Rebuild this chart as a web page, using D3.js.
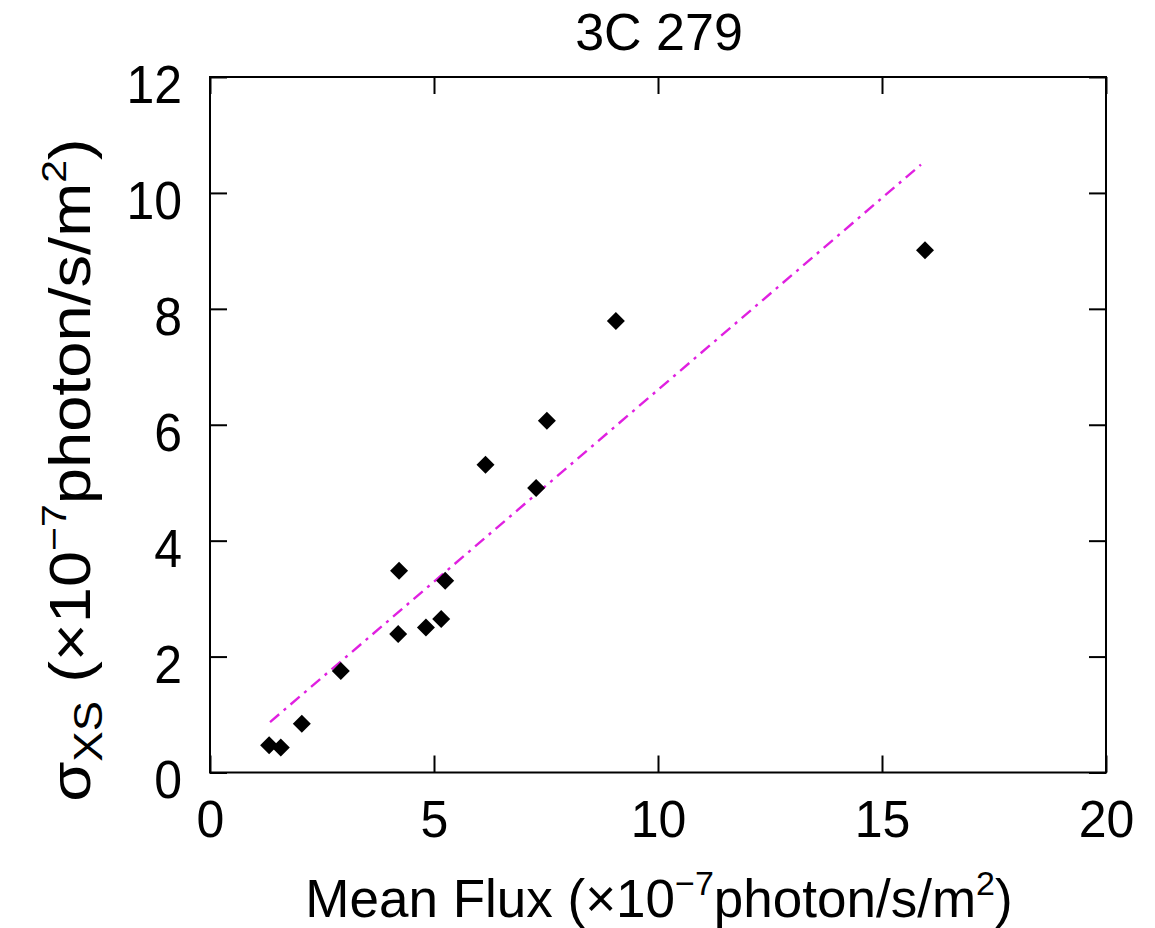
<!DOCTYPE html>
<html><head><meta charset="utf-8">
<script src="https://cdn.jsdelivr.net/npm/d3@7"></script>
<style>body{margin:0;background:#fff}svg{display:block}text{font-family:"Liberation Sans",Arial,Helvetica,sans-serif;fill:#000}</style>
</head><body>
<script>
const meanFlux = [1.32, 1.58, 2.05, 2.92, 4.22, 4.20, 4.82, 5.16, 5.25, 6.15, 7.28, 7.52, 9.06, 15.96];
const sigmaXS  = [0.47, 0.43, 0.84, 1.75, 3.48, 2.39, 2.50, 2.65, 3.31, 5.31, 4.91, 6.07, 7.79, 9.01];
const fitX = [1.34, 15.87];
const fitSlope = 0.662, fitIntercept = -0.017;
const xTicks = [0, 5, 10, 15, 20];
const yTicks = [0, 2, 4, 6, 8, 10, 12];
const title = "3C 279";

const W = 1155, H = 928;
const L = 210, R = 1106, T = 77, B = 772.5;
const svg = d3.select("body").append("svg").attr("width", W).attr("height", H);
const x = d3.scaleLinear().domain([0, 20]).range([L, R]);
const y = d3.scaleLinear().domain([0, 12]).range([B, T]);

const tl = 17;
const fs = 50;
const axStyle = g => { g.select(".domain").remove(); g.selectAll("line").attr("stroke", "#000").attr("stroke-width", 2); };

// frame
svg.append("rect").attr("x", L).attr("y", T).attr("width", R - L).attr("height", B - T)
  .attr("fill", "none").attr("stroke", "#000").attr("stroke-width", 2);

// bottom axis
svg.append("g").attr("transform", `translate(0,${B})`)
  .call(d3.axisBottom(x).tickValues(xTicks).tickSizeInner(-tl).tickSizeOuter(0).tickFormat(d3.format("d")))
  .call(axStyle)
  .call(g => g.selectAll("text").attr("font-size", fs).attr("y", 0).attr("dy", 0)
    .attr("transform", "translate(0,64.5) scale(1,1.03)").attr("fill", "#000"));
// top axis
svg.append("g").attr("transform", `translate(0,${T})`)
  .call(d3.axisTop(x).tickValues(xTicks).tickSizeInner(-tl).tickSizeOuter(0).tickFormat(""))
  .call(axStyle);
// left axis
svg.append("g").attr("transform", `translate(${L},0)`)
  .call(d3.axisLeft(y).tickValues(yTicks).tickSizeInner(-tl).tickSizeOuter(0).tickFormat(d3.format("d")))
  .call(axStyle)
  .call(g => g.selectAll("text").attr("font-size", fs).attr("x", -28).attr("dy", "0.36em")
    .attr("transform", "translate(0,6) scale(1,1.08)").attr("fill", "#000"));
// right axis
svg.append("g").attr("transform", `translate(${R},0)`)
  .call(d3.axisRight(y).tickValues(yTicks).tickSizeInner(-tl).tickSizeOuter(0).tickFormat(""))
  .call(axStyle);

// fit line
svg.append("line")
  .attr("x1", x(fitX[0])).attr("y1", y(fitSlope * fitX[0] + fitIntercept))
  .attr("x2", x(fitX[1])).attr("y2", y(fitSlope * fitX[1] + fitIntercept))
  .attr("stroke", "#e020e0").attr("stroke-width", 2.4)
  .attr("stroke-dasharray", "12,6,3,6");

// points
const data = meanFlux.map((v, i) => [v, sigmaXS[i]]);
const r = 9;
svg.append("g").selectAll("path").data(data).join("path")
  .attr("d", d => `M${x(d[0])},${y(d[1]) - r}L${x(d[0]) + r},${y(d[1])}L${x(d[0])},${y(d[1]) + r}L${x(d[0]) - r},${y(d[1])}Z`)
  .attr("fill", "#000");

// title
svg.append("text").attr("x", 659).attr("y", 50).attr("text-anchor", "middle").attr("font-size", 52).text(title);

// x label
const lf = 53, sf = 34, sh = 22;
const xl = svg.append("text").attr("x", 659).attr("y", 917).attr("text-anchor", "middle").attr("font-size", lf);
xl.append("tspan").text("Mean Flux (\u00d710");
xl.append("tspan").attr("font-size", sf).attr("dy", -sh).text("\u22127");
xl.append("tspan").attr("dy", sh).text("photon/s/m");
xl.append("tspan").attr("font-size", sf).attr("dy", -sh).text("2");
xl.append("tspan").attr("dy", sh).text(")");

// y label
const yf = 57, ysf = 36, ysh = 24;
const yl = svg.append("text").attr("transform", "translate(90,470) rotate(-90) scale(1.14,1)").attr("text-anchor", "middle").attr("font-size", yf);
yl.append("tspan").text("\u03c3");
yl.append("tspan").attr("font-size", 40).attr("dy", 12).text("XS");
yl.append("tspan").attr("dy", -12).text(" (\u00d710");
yl.append("tspan").attr("font-size", ysf).attr("dy", -ysh).text("\u22127");
yl.append("tspan").attr("dy", ysh).text("photon/s/m");
yl.append("tspan").attr("font-size", ysf).attr("dy", -ysh).text("2");
yl.append("tspan").attr("dy", ysh).text(")");
</script>
</body></html>
